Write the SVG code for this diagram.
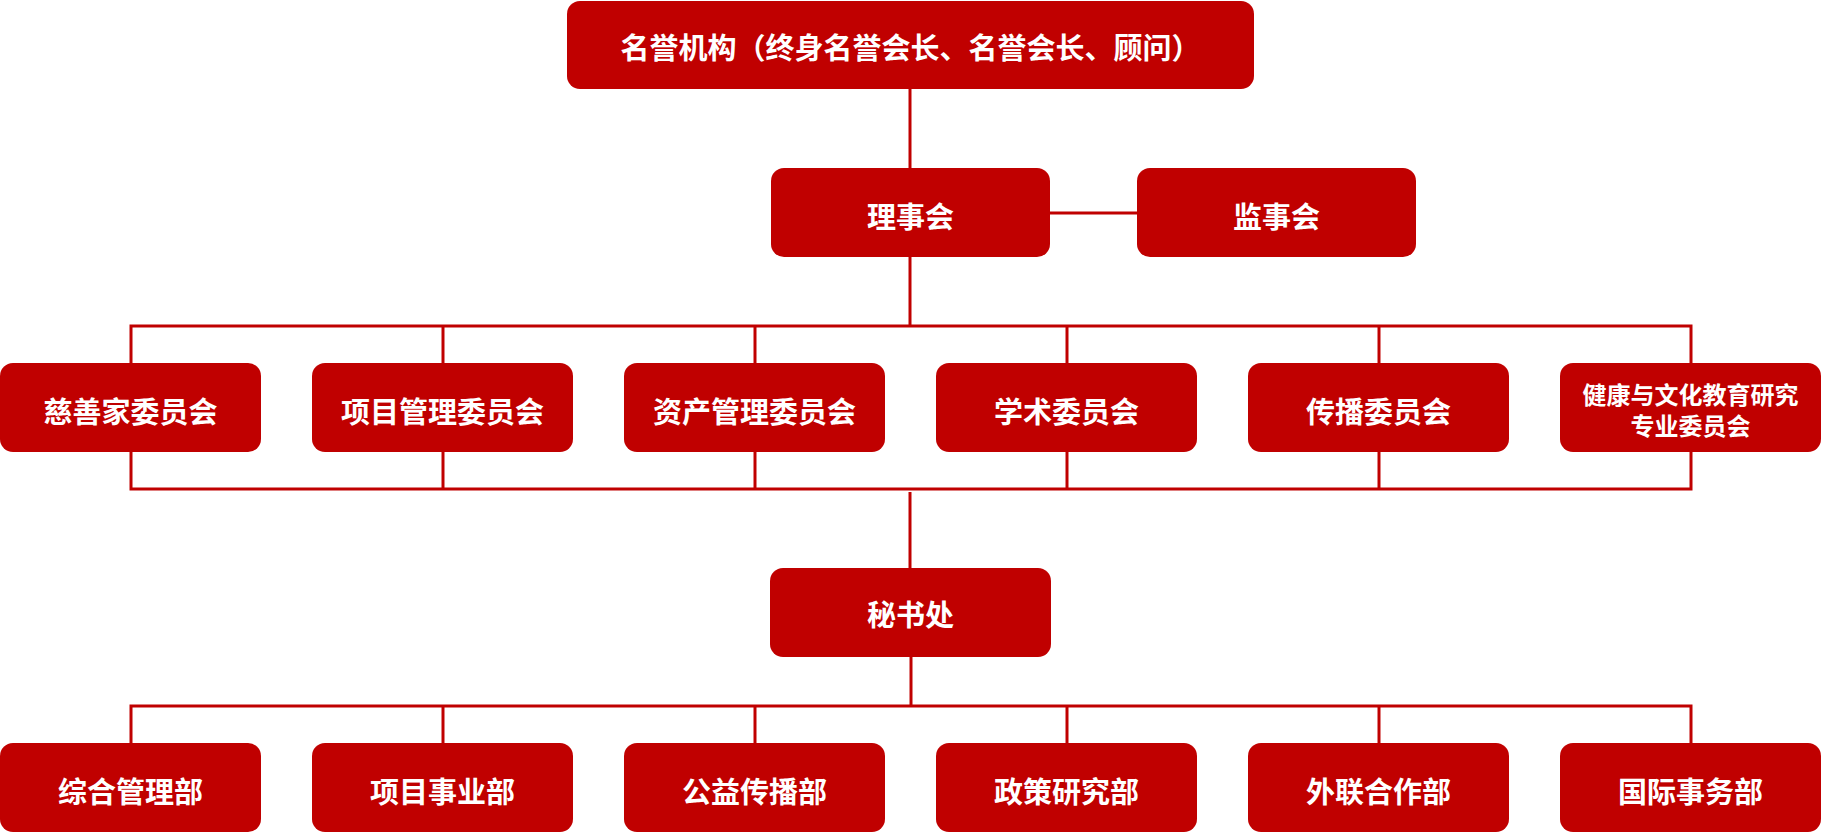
<svg xmlns="http://www.w3.org/2000/svg" width="1821" height="833" viewBox="0 0 1821 833">
<style>
.box{fill:#C00000}
.t{fill:#FFFFFF;font-family:"Noto Sans CJK SC","Microsoft YaHei",sans-serif;font-weight:bold;font-size:29px;text-anchor:middle}
.t2{font-size:24px}
.ln{stroke:#C00000;stroke-width:3;fill:none}
</style>
<rect width="1821" height="833" fill="#FFFFFF"/>
<g id="connectors">
<line class="ln" x1="910" y1="89" x2="910" y2="168"/>
<line class="ln" x1="1050" y1="213" x2="1137" y2="213"/>
<line class="ln" x1="910" y1="257" x2="910" y2="326"/>
<path class="ln" d="M131 363V326H1691V363"/>
<line class="ln" x1="443" y1="326" x2="443" y2="363"/>
<line class="ln" x1="755" y1="326" x2="755" y2="363"/>
<line class="ln" x1="1067" y1="326" x2="1067" y2="363"/>
<line class="ln" x1="1379" y1="326" x2="1379" y2="363"/>
<path class="ln" d="M131 452V489H1691V452"/>
<line class="ln" x1="443" y1="452" x2="443" y2="489"/>
<line class="ln" x1="755" y1="452" x2="755" y2="489"/>
<line class="ln" x1="1067" y1="452" x2="1067" y2="489"/>
<line class="ln" x1="1379" y1="452" x2="1379" y2="489"/>
<line class="ln" x1="910" y1="492" x2="910" y2="568"/>
<line class="ln" x1="911" y1="657" x2="911" y2="706"/>
<path class="ln" d="M131 743V706H1691V743"/>
<line class="ln" x1="443" y1="706" x2="443" y2="743"/>
<line class="ln" x1="755" y1="706" x2="755" y2="743"/>
<line class="ln" x1="1067" y1="706" x2="1067" y2="743"/>
<line class="ln" x1="1379" y1="706" x2="1379" y2="743"/>
</g>
<g id="honorary"><rect class="box" x="567" y="1" width="687" height="88" rx="13"/><text class="t" x="910.5" y="58.5">名誉机构（终身名誉会长、名誉会长、顾问）</text></g>
<g id="board"><rect class="box" x="771" y="168" width="279" height="89" rx="13"/><text class="t" x="910.5" y="227.5">理事会</text></g>
<g id="supervisors"><rect class="box" x="1137" y="168" width="279" height="89" rx="13"/><text class="t" x="1276.5" y="227.5">监事会</text></g>
<g id="c1"><rect class="box" x="0" y="363" width="261" height="89" rx="13"/><text class="t" x="130.5" y="422.5">慈善家委员会</text></g>
<g id="c2"><rect class="box" x="312" y="363" width="261" height="89" rx="13"/><text class="t" x="442.5" y="422.5">项目管理委员会</text></g>
<g id="c3"><rect class="box" x="624" y="363" width="261" height="89" rx="13"/><text class="t" x="754.5" y="422.5">资产管理委员会</text></g>
<g id="c4"><rect class="box" x="936" y="363" width="261" height="89" rx="13"/><text class="t" x="1066.5" y="422.5">学术委员会</text></g>
<g id="c5"><rect class="box" x="1248" y="363" width="261" height="89" rx="13"/><text class="t" x="1378.5" y="422.5">传播委员会</text></g>
<g id="c6"><rect class="box" x="1560" y="363" width="261" height="89" rx="13"/><text class="t t2" x="1690.5" y="404"><tspan x="1690.5" y="404">健康与文化教育研究</tspan><tspan x="1690.5" y="435">专业委员会</tspan></text></g>
<g id="secretariat"><rect class="box" x="770" y="568" width="281" height="89" rx="13"/><text class="t" x="910.5" y="626">秘书处</text></g>
<g id="d1"><rect class="box" x="0" y="743" width="261" height="89" rx="13"/><text class="t" x="130.5" y="803">综合管理部</text></g>
<g id="d2"><rect class="box" x="312" y="743" width="261" height="89" rx="13"/><text class="t" x="442.5" y="803">项目事业部</text></g>
<g id="d3"><rect class="box" x="624" y="743" width="261" height="89" rx="13"/><text class="t" x="754.5" y="803">公益传播部</text></g>
<g id="d4"><rect class="box" x="936" y="743" width="261" height="89" rx="13"/><text class="t" x="1066.5" y="803">政策研究部</text></g>
<g id="d5"><rect class="box" x="1248" y="743" width="261" height="89" rx="13"/><text class="t" x="1378.5" y="803">外联合作部</text></g>
<g id="d6"><rect class="box" x="1560" y="743" width="261" height="89" rx="13"/><text class="t" x="1690.5" y="803">国际事务部</text></g>
</svg>
